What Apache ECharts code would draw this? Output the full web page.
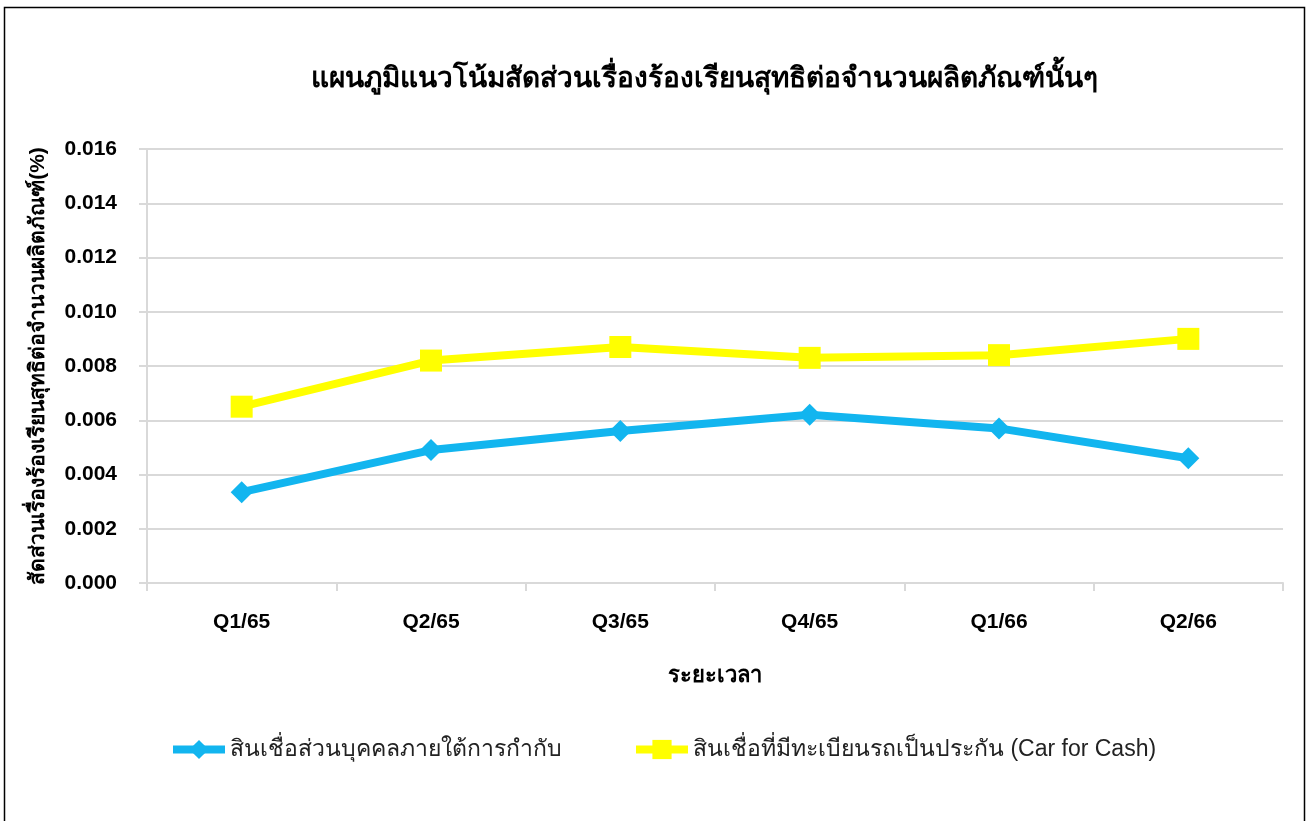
<!DOCTYPE html>
<html>
<head>
<meta charset="utf-8">
<script src="https://cdn.jsdelivr.net/npm/echarts@6/dist/echarts.min.js"></script>
<style>
    html, body { margin: 0; padding: 0; background: #fff; }
    #echart { width: 1309px; height: 821px; }
</style>
</head>
<body>
<div id="echart"></div>
<script>
// ข้อมูลรายไตรมาส
const categories = ['Q1/65', 'Q2/65', 'Q3/65', 'Q4/65', 'Q1/66', 'Q2/66'];
const personalLoan = [0.00335, 0.0049, 0.0056, 0.0062, 0.0057, 0.0046];
const carForCash = [0.0065, 0.0082, 0.0087, 0.0083, 0.0084, 0.0090];

const seriesNames = ['สินเชื่อส่วนบุคคลภายใต้การกำกับ', 'สินเชื่อที่มีทะเบียนรถเป็นประกัน (Car for Cash)'];
const font = "'Liberation Sans', 'Noto Sans', 'DejaVu Sans', sans-serif";

let chart = echarts.init(document.getElementById('echart'));
let option = {
    backgroundColor: '#fff',
    textStyle: { fontFamily: font },
    graphic: [{
        type: 'rect',
        shape: { x: 4.5, y: 7.5, width: 1300, height: 900 },
        style: { fill: 'none', stroke: '#000', lineWidth: 1.5 },
        silent: true
    }],
    title: {
        text: 'แผนภูมิแนวโน้มสัดส่วนเรื่องร้องเรียนสุทธิต่อจำนวนผลิตภัณฑ์นั้นๆ',
        left: 699,
        top: 60,
        textAlign: 'center',
        textStyle: { fontSize: 28, fontWeight: 'bold', color: '#000', fontFamily: font }
    },
    legend: {
        bottom: 55,
        left: 164,
        itemGap: 70,
        itemWidth: 52,
        itemHeight: 24,
        lineStyle: { width: 8 },
        textStyle: { fontSize: 23, color: '#222', fontFamily: font },
        selectedMode: false,
        data: seriesNames
    },
    grid: { left: 147, right: 26, top: 149, bottom: 238 },
    xAxis: {
        type: 'category',
        data: categories,
        boundaryGap: true,
        name: 'ระยะเวลา',
        nameLocation: 'middle',
        nameGap: 82,
        nameTextStyle: { fontSize: 22, fontWeight: 'bold', color: '#000' },
        axisLine: { lineStyle: { color: '#d9d9d9', width: 2 } },
        axisTick: { show: true, length: 8, lineStyle: { color: '#d9d9d9', width: 2 } },
        axisLabel: { fontSize: 21, fontWeight: 'bold', color: '#000', margin: 29 }
    },
    yAxis: {
        type: 'value',
        min: 0,
        max: 0.016,
        interval: 0.002,
        name: 'สัดส่วนเรื่องร้องเรียนสุทธิต่อจำนวนผลิตภัณฑ์(%)',
        nameLocation: 'middle',
        nameGap: 98,
        nameTextStyle: { fontSize: 21, fontWeight: 'bold', color: '#000' },
        axisLine: { show: true, lineStyle: { color: '#d9d9d9', width: 2 } },
        axisTick: { show: true, length: 8, lineStyle: { color: '#d9d9d9', width: 2 } },
        splitLine: { lineStyle: { color: '#d9d9d9', width: 2 } },
        axisLabel: {
            fontSize: 21, fontWeight: 'bold', color: '#000', margin: 30,
            formatter: v => v.toFixed(3)
        }
    },
    series: [{
        name: seriesNames[0],
        type: 'line',
        data: personalLoan,
        symbol: 'diamond',
        symbolSize: 22,
        lineStyle: { color: '#12b5ef', width: 8 },
        itemStyle: { color: '#12b5ef' },
        z: 3
    }, {
        name: seriesNames[1],
        type: 'line',
        data: carForCash,
        symbol: 'rect',
        symbolSize: 22,
        lineStyle: { color: '#ffff00', width: 8 },
        itemStyle: { color: '#ffff00' },
        z: 2
    }]
};
chart.setOption(option);
</script>
</body>
</html>
